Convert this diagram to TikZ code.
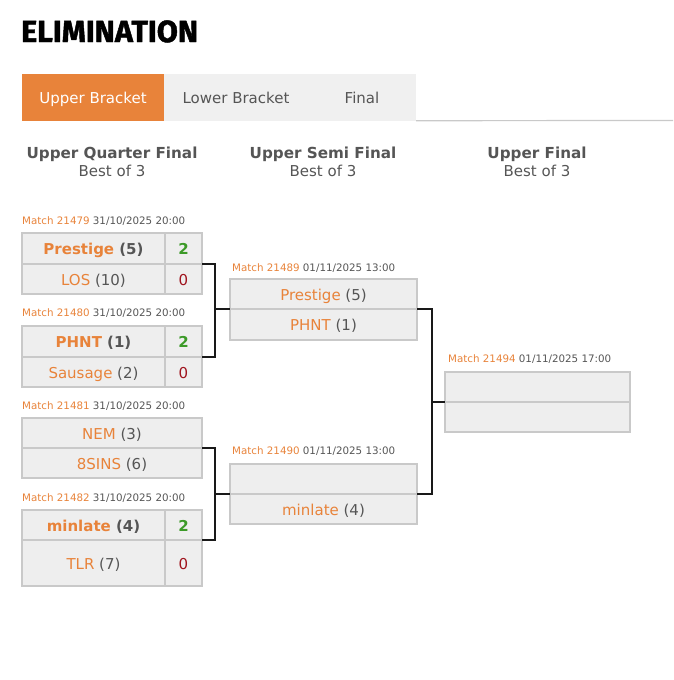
\documentclass[tikz,border=0pt]{standalone}
\usepackage{fontspec}
\setmainfont{DejaVu Sans}
\newfontfamily\titlefont{Fira Sans}[BoldFeatures={FakeBold=1.5}]
\usetikzlibrary{positioning}

\definecolor{accent}{HTML}{E8833A}
\definecolor{seed}{HTML}{555555}
\definecolor{tabgrey}{HTML}{F0F0F0}
\definecolor{cellbg}{HTML}{EEEEEE}
\definecolor{cellline}{HTML}{C9C9C9}
\definecolor{win}{HTML}{3C9A28}
\definecolor{lose}{HTML}{A0141E}

\tikzset{
    tab/.style={fill=tabgrey, minimum height=47pt, inner sep=0pt, text=seed,
        text height=11pt, text depth=0pt, font=\fontsize{15}{15}\selectfont},
    head/.style={align=center, text=seed, font=\fontsize{15}{18}\selectfont},
    cell/.style={draw=cellline, fill=cellbg, line width=1.5pt, inner sep=0pt,
        outer sep=0pt, minimum height=30pt, text height=12pt, text depth=0pt,
        font=\fontsize{15}{15}\selectfont},
    score/.style={cell, minimum width=37pt},
    info/.style={anchor=base west, inner sep=0pt, text=seed,
        font=\fontsize{10.3}{10.3}\selectfont},
    link/.style={line width=2.3pt, black!90},
}
\newcommand{\team}[2]{\textcolor{accent}{#1} \textcolor{seed}{(#2)}}
\newcommand{\match}[2]{\textcolor{accent}{Match #1} #2}

\begin{document}
\begin{tikzpicture}[x=1pt, y=-1pt]
    \useasboundingbox (0,0) rectangle (673,680);

    % Title and tabs
    \node[anchor=base west, inner sep=0pt, font=\titlefont\bfseries\fontsize{30.5}{30.5}\selectfont]
        (title) at (21,42) {ELIMINATION};
    \node[tab, fill=accent, text=white, minimum width=142pt] (tub) at (93,97.5) {Upper Bracket};
    \node[tab, minimum width=144pt] (tlb) at (236,97.5) {Lower Bracket};
    \node[tab, minimum width=108pt] (tfin) at (362,97.5) {Final};
    \coordinate (tabend) at (673,120.5);
    \draw[cellline, line width=1.2pt] (tfin.south east) ++(0,-0.5) -- (tabend);

    % Round headers
    \node[head] (hqf) at (112,162) {{\bfseries\fontsize{15.2}{18}\selectfont Upper Quarter Final}\\Best of 3};
    \node[head] (hsf) at (323,162) {{\bfseries\fontsize{15.2}{18}\selectfont Upper Semi Final}\\Best of 3};
    \node[head] (hf) at (537,162) {{\bfseries\fontsize{15.2}{18}\selectfont Upper Final}\\Best of 3};

    % Quarter finals
    \node[info] (iqf1) at (22,224) {\match{21479}{31/10/2025 20:00}};
    \node[cell, minimum width=143pt, minimum height=31pt] (qf1a) at (93.5,248.5) {\bfseries\team{Prestige}{5}};
    \node[score, minimum height=31pt] (qf1s1) at (183.5,248.5) {\bfseries\textcolor{win}{2}};
    \node[cell, minimum width=143pt] (qf1b) at (93.5,279) {\team{LOS}{10}};
    \node[score] (qf1s2) at (183.5,279) {\textcolor{lose}{0}};

    \node[info] (iqf2) at (22,316) {\match{21480}{31/10/2025 20:00}};
    \node[cell, minimum width=143pt, minimum height=31pt] (qf2a) at (93.5,341.5) {\bfseries\team{PHNT}{1}};
    \node[score, minimum height=31pt] (qf2s1) at (183.5,341.5) {\bfseries\textcolor{win}{2}};
    \node[cell, minimum width=143pt] (qf2b) at (93.5,372) {\team{Sausage}{2}};
    \node[score] (qf2s2) at (183.5,372) {\textcolor{lose}{0}};

    \node[info] (iqf3) at (22,409) {\match{21481}{31/10/2025 20:00}};
    \node[cell, minimum width=180pt] (qf3a) at (112,433) {\team{NEM}{3}};
    \node[cell, minimum width=180pt] (qf3b) at (112,463) {\team{8SINS}{6}};

    \node[info] (iqf4) at (22,501) {\match{21482}{31/10/2025 20:00}};
    \node[cell, minimum width=143pt] (qf4a) at (93.5,525) {\bfseries\team{minlate}{4}};
    \node[score] (qf4s1) at (183.5,525) {\bfseries\textcolor{win}{2}};
    \node[cell, minimum width=143pt, minimum height=46pt] (qf4b) at (93.5,563) {\team{TLR}{7}};
    \node[score, minimum height=46pt] (qf4s2) at (183.5,563) {\textcolor{lose}{0}};

    % Semi finals
    \node[info] (isf1) at (232,271) {\match{21489}{01/11/2025 13:00}};
    \node[cell, minimum width=187pt] (sf1a) at (323.5,294) {\team{Prestige}{5}};
    \node[cell, minimum width=187pt, minimum height=31pt] (sf1b) at (323.5,324.5) {\team{PHNT}{1}};

    \node[info] (isf2) at (232,454) {\match{21490}{01/11/2025 13:00}};
    \node[cell, minimum width=187pt] (sf2a) at (323.5,479) {};
    \node[cell, minimum width=187pt] (sf2b) at (323.5,509) {\team{minlate}{4}};

    % Final
    \node[info] (if) at (448,362) {\match{21494}{01/11/2025 17:00}};
    \node[cell, minimum width=185pt] (fa) at (537.5,387) {};
    \node[cell, minimum width=185pt] (fb) at (537.5,417) {};

    % Connectors
    \coordinate (j1) at (215,309);
    \coordinate (j2) at (215,494);
    \coordinate (j3) at (432,402);
    \draw[link] (qf1s1.south east) -| (j1) |- (qf2s1.south east);
    \draw[link] (j1) -- (sf1a.south west);
    \draw[link] (qf3a.south east) -| (j2) |- (qf4s1.south east);
    \draw[link] (j2) -- (sf2a.south west);
    \draw[link] (sf1a.south east) -| (j3) |- (sf2a.south east);
    \draw[link] (j3) -- (fa.south west);
\end{tikzpicture}
\end{document}
